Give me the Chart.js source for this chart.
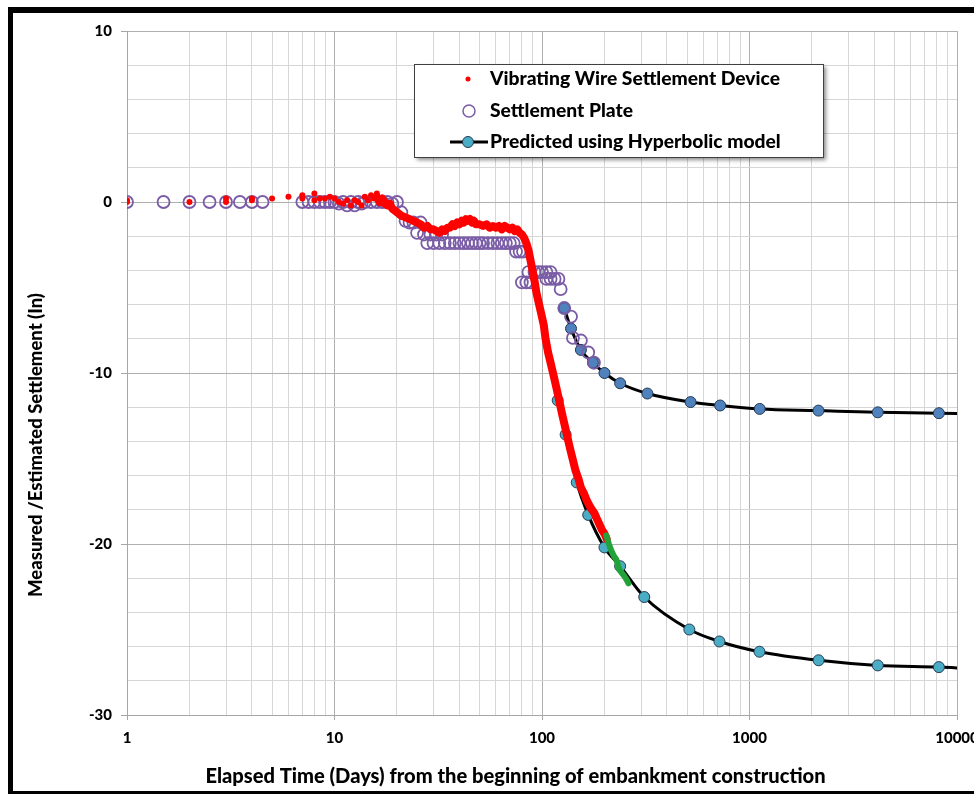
<!DOCTYPE html>
<html>
<head>
<meta charset="utf-8">
<script src="https://cdn.jsdelivr.net/npm/chart.js@4.4.1/dist/chart.umd.min.js"></script>
<style>
  body { margin: 0; background: #fff; overflow: hidden; }
  canvas { display: block; }
</style>
</head>
<body>
<canvas id="myChart" width="974" height="794"></canvas>
<script>
// axis ticks
let xTickValues = [1, 10, 100, 1000, 10000];
let xTickLabels = ["1", "10", "100", "1000", "10000"];
let yTickValues = [10, 0, -10, -20, -30];
let yTickLabels = ["10", "0", "-10", "-20", "-30"];

// Vibrating wire settlement device - early scattered readings
let vwEarlyDays = [1, 1, 2, 3, 3, 4, 4, 5, 6, 7, 7, 8, 8, 8.5, 9, 9.5, 10, 10.5, 11, 11.5, 12, 12.5, 13, 13.5, 14, 14.5, 15, 15.5, 16];
let vwEarlyValues = [0, 0.1, 0, 0, 0.2, 0.1, 0.2, 0.2, 0.3, 0.2, 0.4, 0.1, 0.5, 0.2, 0.2, 0.3, 0.2, 0, -0.1, 0.1, -0.2, 0.1, 0, -0.2, 0.3, 0.1, 0.4, 0.2, 0.5];

// Vibrating wire settlement device - dense readings
let vwDays = [16, 16.5, 17, 17.5, 18, 18.5, 19, 19.5, 20, 21, 22, 23, 24, 25, 26, 27, 28, 29, 30, 31, 32, 33, 34, 35, 36, 37, 38, 39, 40, 41, 42, 43, 44, 45, 46, 47, 48, 50, 52, 54, 56, 58, 60, 62, 64, 66, 68, 70, 72, 74, 76, 78, 80, 82, 84, 86, 88, 90, 92, 94, 96, 99, 102, 104, 107, 110, 114, 118, 121, 125, 130, 134, 137, 141, 145, 150, 154, 160, 165, 172, 179, 185, 190, 195, 200, 205];
let vwValues = [0.3, 0, 0.2, -0.1, -0.2, -0.1, -0.4, -0.5, -0.6, -0.8, -0.9, -1.0, -1.1, -1.2, -1.3, -1.5, -1.4, -1.6, -1.6, -1.7, -1.8, -1.6, -1.7, -1.5, -1.5, -1.3, -1.4, -1.2, -1.3, -1.1, -1.2, -1.0, -1.1, -1.0, -1.2, -1.1, -1.3, -1.3, -1.4, -1.3, -1.5, -1.4, -1.5, -1.4, -1.6, -1.4, -1.5, -1.6, -1.5, -1.7, -1.6, -1.8, -1.9, -2.1, -2.4, -2.8, -3.4, -4.0, -4.6, -5.3, -5.8, -6.5, -7.2, -8.0, -8.8, -9.4, -10.2, -11.0, -11.6, -12.4, -13.3, -14.0, -14.5, -15.1, -15.7, -16.2, -16.7, -17.1, -17.5, -17.9, -18.2, -18.6, -18.9, -19.2, -19.4, -19.7];

// latest readings (green)
let vwLateDays = [204, 210, 216, 222, 228, 232, 236, 243, 250, 256, 261];
let vwLateValues = [-19.5, -20.0, -20.4, -20.7, -20.9, -21.2, -21.5, -21.7, -21.9, -22.1, -22.3];

// Settlement plate
let plateDays = [1, 1.5, 2, 2.5, 3, 3.5, 4, 4.5, 7, 7.5, 8, 8.5, 9, 9.5, 10, 10.5, 11, 11.5, 12, 12.5, 13, 13.5, 14, 15, 16, 17, 18, 19, 20, 21, 22, 23, 24, 25, 26, 27, 28, 29, 30, 31, 32, 33, 34, 36, 38, 40, 42, 44, 46, 48, 50, 52, 55, 58, 61, 64, 67, 70, 73, 75, 78, 81, 80, 84, 88, 86, 92, 96, 100, 105, 110, 105, 110, 115, 120, 123, 128, 138, 141, 154, 167, 178];
let plateValues = [0, 0, 0, 0, 0, 0, 0, 0, 0, 0, 0, 0, 0, 0, 0, -0.1, 0, -0.2, 0, -0.2, 0, -0.1, 0, 0, 0, 0, 0, -0.1, 0, -0.6, -1.1, -1.2, -1.2, -1.8, -1.2, -1.9, -2.4, -1.9, -2.4, -1.9, -2.4, -1.9, -2.4, -2.4, -2.4, -2.4, -2.4, -2.4, -2.4, -2.4, -2.4, -2.4, -2.4, -2.4, -2.4, -2.4, -2.4, -2.4, -2.4, -2.9, -2.9, -2.9, -4.7, -4.7, -4.7, -4.1, -4.1, -4.1, -4.1, -4.1, -4.1, -4.5, -4.5, -4.5, -4.5, -5.1, -6.2, -6.7, -7.95, -8.1, -8.8, -9.4];

// Hyperbolic model predictions
let predUpperDays = [128, 138, 154, 176, 200, 238, 322, 520, 722, 1120, 2150, 4150, 8180, 12000];
let predUpperValues = [-6.2, -7.4, -8.65, -9.4, -10.0, -10.6, -11.2, -11.7, -11.9, -12.1, -12.2, -12.3, -12.35, -12.4];
let predLowerDays = [119, 130, 147, 167, 200, 238, 311, 513, 716, 1117, 2153, 4150, 8180, 12000];
let predLowerValues = [-11.6, -13.6, -16.4, -18.3, -20.2, -21.3, -23.1, -25.0, -25.7, -26.3, -26.8, -27.1, -27.2, -27.3];

const RED = "#ff0000";
const GREEN = "#22a33a";
const PURPLE = "#7a5ca6";
const BLUE = "#4f81bd";
const TEAL = "#4bacc6";
const MARKER_EDGE = "#243a52";
const FONT = "Lato";
const WEIGHT = "900";

function points(xs, ys) {
    let out = [];
    for (let i = 0; i < xs.length; ++i) {
        out.push({x: xs[i], y: ys[i]});
    }
    return out;
}

function isDecade(v) {
    return xTickValues.indexOf(v) >= 0;
}

// grid values: 1..9 for each decade
let xGrid = [];
for (let e = 0; e < 4; ++e) {
    for (let m = 1; m < 10; ++m) {
        xGrid.push(m * Math.pow(10, e));
    }
}
xGrid.push(10000);

function fitSize(ctx, text, width) {
    ctx.font = WEIGHT + " 20px " + FONT;
    return 20 * width / ctx.measureText(text).width;
}

const decorations = {
    id: "decorations",
    afterDraw(chart) {
        const ctx = chart.ctx;
        ctx.save();

        // outer frame
        ctx.fillStyle = "#000";
        ctx.fillRect(8, 7, 5, 787);
        ctx.fillRect(8, 7, 966, 6);
        ctx.fillRect(8, 791, 966, 3);

        // axis titles
        ctx.fillStyle = "#000";
        ctx.textAlign = "center";
        ctx.textBaseline = "middle";
        let xt = "Elapsed Time (Days) from the beginning of embankment construction";
        ctx.font = WEIGHT + " " + fitSize(ctx, xt, 621).toFixed(2) + "px " + FONT;
        ctx.fillText(xt, 515.5, 777);

        let yt = "Measured /Estimated Settlement (In)";
        ctx.save();
        ctx.translate(36, 445);
        ctx.rotate(-Math.PI / 2);
        ctx.font = WEIGHT + " " + fitSize(ctx, yt, 304).toFixed(2) + "px " + FONT;
        ctx.fillText(yt, 0, 0);
        ctx.restore();

        // legend box
        ctx.save();
        ctx.shadowColor = "rgba(0,0,0,0.45)";
        ctx.shadowBlur = 4;
        ctx.shadowOffsetX = 3;
        ctx.shadowOffsetY = 3;
        ctx.fillStyle = "#fff";
        ctx.fillRect(414, 64, 409, 93);
        ctx.restore();
        ctx.strokeStyle = "#404040";
        ctx.lineWidth = 1;
        ctx.strokeRect(414.5, 64.5, 409, 93);

        let labels = ["Vibrating Wire Settlement Device", "Settlement Plate", "Predicted using Hyperbolic model"];
        let rows = [79, 111, 142];
        let size = fitSize(ctx, labels[0], 290);
        ctx.font = WEIGHT + " " + size.toFixed(2) + "px " + FONT;
        ctx.textAlign = "left";
        ctx.fillStyle = "#000";
        for (let i = 0; i < labels.length; ++i) {
            ctx.fillText(labels[i], 490, rows[i]);
        }
        // symbols
        ctx.fillStyle = RED;
        ctx.beginPath();
        ctx.arc(468, rows[0], 2.5, 0, Math.PI * 2);
        ctx.fill();

        ctx.strokeStyle = PURPLE;
        ctx.lineWidth = 1.5;
        ctx.beginPath();
        ctx.arc(469, rows[1], 6, 0, Math.PI * 2);
        ctx.stroke();

        ctx.strokeStyle = "#000";
        ctx.lineWidth = 3;
        ctx.beginPath();
        ctx.moveTo(450, rows[2]);
        ctx.lineTo(488, rows[2]);
        ctx.stroke();
        ctx.fillStyle = TEAL;
        ctx.strokeStyle = MARKER_EDGE;
        ctx.lineWidth = 1;
        ctx.beginPath();
        ctx.arc(468, rows[2], 5.5, 0, Math.PI * 2);
        ctx.fill();
        ctx.stroke();

        ctx.restore();
    }
};

const predictedStyle = {
    showLine: true,
    borderColor: "#000",
    borderWidth: 3,
    pointRadius: 5.5,
    pointBorderColor: MARKER_EDGE,
    pointBorderWidth: 1,
    cubicInterpolationMode: "monotone",
    clip: {left: 10, top: 10, right: 0, bottom: 10}
};

new Chart("myChart", {
    type: "scatter",
    data: {
        datasets: [
            {
                data: points(vwLateDays, vwLateValues),
                showLine: true,
                borderColor: GREEN,
                borderWidth: 6,
                borderCapStyle: "round",
                borderJoinStyle: "round",
                pointRadius: 0
            },
            {
                data: points(vwDays, vwValues),
                showLine: true,
                borderColor: RED,
                borderWidth: 8,
                borderCapStyle: "round",
                borderJoinStyle: "round",
                pointRadius: 0
            },
            {
                data: points(vwEarlyDays, vwEarlyValues),
                pointRadius: 3,
                pointBackgroundColor: RED,
                pointBorderWidth: 0
            },
            {
                data: points(plateDays, plateValues),
                pointRadius: 6,
                pointBackgroundColor: "rgba(0,0,0,0)",
                pointBorderColor: PURPLE,
                pointBorderWidth: 1.8
            },
            Object.assign({data: points(predUpperDays, predUpperValues), pointBackgroundColor: BLUE}, predictedStyle),
            Object.assign({data: points(predLowerDays, predLowerValues), pointBackgroundColor: TEAL}, predictedStyle)
        ]
    },
    options: {
        responsive: false,
        animation: false,
        devicePixelRatio: 1,
        layout: {padding: {left: 14, top: 31, right: 17, bottom: 0}},
        plugins: {
            legend: {display: false},
            tooltip: {enabled: false}
        },
        scales: {
            x: {
                type: "logarithmic",
                min: 1,
                max: 10000,
                afterBuildTicks(scale) {
                    scale.ticks = xGrid.map(v => ({value: v, major: isDecade(v)}));
                },
                afterFit(scale) {
                    scale.height = 79;
                    scale.paddingLeft = 0;
                    scale.paddingRight = 0;
                },
                ticks: {
                    autoSkip: false,
                    maxRotation: 0,
                    padding: 9,
                    color: "#000",
                    font: {family: FONT, weight: WEIGHT, size: 15},
                    callback: function (v) {
                        let i = xTickValues.indexOf(v);
                        return i >= 0 ? xTickLabels[i] : "";
                    }
                },
                grid: {
                    color: c => (c.tick && isDecade(c.tick.value)) ? "#b0b0b0" : "#d6d6d6",
                    tickColor: c => (c.tick && isDecade(c.tick.value)) ? "#a6a6a6" : "rgba(0,0,0,0)",
                    tickLength: 5
                },
                border: {color: "#a6a6a6"}
            },
            y: {
                type: "linear",
                min: -30,
                max: 10,
                afterFit(scale) {
                    scale.width = 113;
                },
                ticks: {
                    stepSize: 2,
                    autoSkip: false,
                    padding: 9,
                    color: "#000",
                    font: {family: FONT, weight: WEIGHT, size: 15},
                    callback: function (v) {
                        let i = yTickValues.indexOf(v);
                        return i >= 0 ? yTickLabels[i] : "";
                    }
                },
                grid: {
                    color: c => (c.tick && c.tick.value % 10 === 0) ? "#b0b0b0" : "#d6d6d6",
                    tickColor: c => (c.tick && c.tick.value % 10 === 0) ? "#a6a6a6" : "rgba(0,0,0,0)",
                    tickLength: 6
                },
                border: {color: "#a6a6a6"}
            }
        }
    },
    plugins: [decorations]
});
</script>
</body>
</html>
